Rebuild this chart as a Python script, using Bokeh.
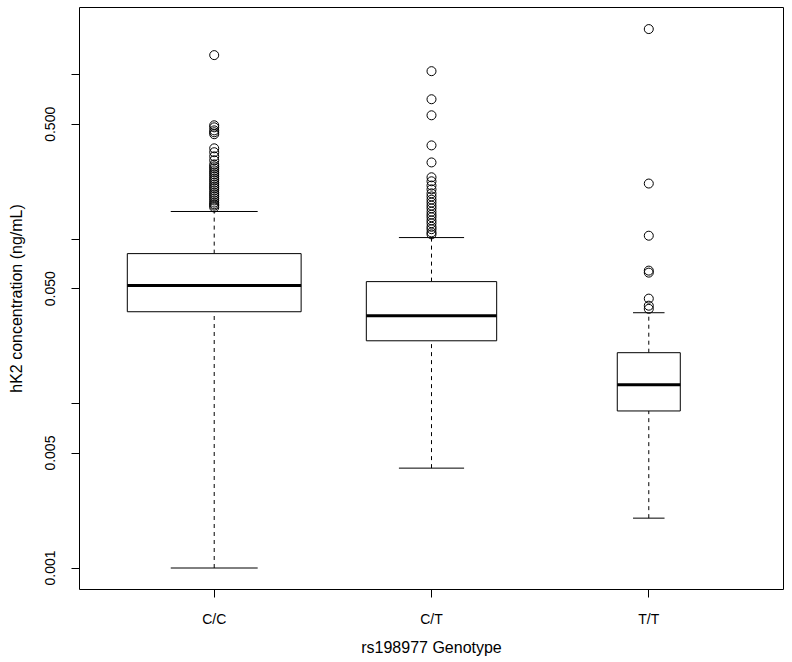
from bokeh.plotting import figure
from bokeh.models import Range1d, FixedTicker, ColumnDataSource
from bokeh.embed import file_html
from bokeh.resources import INLINE

# ---------------- data ----------------
genotypes = ["C/C", "C/T", "T/T"]
positions = [1, 2, 3]
box_widths = [0.80, 0.60, 0.29]
lower_whisker = [0.00100, 0.00405, 0.00201]
q1 = [0.0362, 0.0241, 0.00902]
median = [0.0522, 0.0342, 0.0130]
q3 = [0.0817, 0.0552, 0.0204]
upper_whisker = [0.1474, 0.1023, 0.0357]

outliers_cc = [1.317, 0.493, 0.479, 0.459, 0.447, 0.435, 0.357, 0.338, 0.319,
               0.302, 0.285, 0.277, 0.270, 0.262, 0.255, 0.248, 0.241, 0.234,
               0.228, 0.221, 0.215, 0.209, 0.204, 0.198, 0.192, 0.187, 0.182,
               0.177, 0.172, 0.167, 0.163, 0.160, 0.156]
outliers_ct = [1.052, 0.710, 0.567, 0.372, 0.293, 0.238, 0.225, 0.212, 0.201,
               0.190, 0.182, 0.174, 0.167, 0.160, 0.154, 0.147, 0.141, 0.136,
               0.130, 0.125, 0.119, 0.115, 0.110, 0.107]
outliers_tt = [1.897, 0.218, 0.105, 0.0644, 0.0626, 0.0435, 0.0394, 0.0377]

y_ticks = [0.001, 0.005, 0.01, 0.05, 0.1, 0.5, 1.0]
y_tick_labels = ["0.001", "0.005", "", "0.050", "", "0.500", ""]

FONT = "Liberation Sans"

p = figure(
    width=789, height=660,
    frame_width=704, frame_height=582,
    x_range=Range1d(0.38, 3.62),
    y_range=Range1d(0.00074, 2.566),
    y_axis_type="log",
    output_backend="svg",
    toolbar_location=None,
    min_border_left=79, min_border_top=7, min_border_right=6, min_border_bottom=71,
)
p.background_fill_color = "white"
p.border_fill_color = "white"
p.outline_line_color = "black"
p.outline_line_width = 1
p.xgrid.visible = False
p.ygrid.visible = False

# ---------------- boxes ----------------
left = [x - w / 2 for x, w in zip(positions, box_widths)]
right = [x + w / 2 for x, w in zip(positions, box_widths)]
cap_l = [x - w / 4 for x, w in zip(positions, box_widths)]
cap_r = [x + w / 4 for x, w in zip(positions, box_widths)]

src = ColumnDataSource(dict(x=positions, left=left, right=right, cap_l=cap_l, cap_r=cap_r,
                            lw=lower_whisker, q1=q1, med=median, q3=q3, uw=upper_whisker))

# whiskers (dashed)
p.segment(x0="x", y0="q3", x1="x", y1="uw", source=src, line_color="black",
          line_width=1, line_dash="4 4")
p.segment(x0="x", y0="lw", x1="x", y1="q1", source=src, line_color="black",
          line_width=1, line_dash="4 4")
# staples
p.segment(x0="cap_l", y0="uw", x1="cap_r", y1="uw", source=src, line_color="black", line_width=1)
p.segment(x0="cap_l", y0="lw", x1="cap_r", y1="lw", source=src, line_color="black", line_width=1)
# box
p.quad(left="left", right="right", bottom="q1", top="q3", source=src,
       fill_color="white", line_color="black", line_width=1)
# median
p.segment(x0="left", y0="med", x1="right", y1="med", source=src, line_color="black", line_width=3)

# outliers
for pos, outs in zip(positions, [outliers_cc, outliers_ct, outliers_tt]):
    p.scatter([pos] * len(outs), outs, marker="circle", size=9,
              fill_color=None, line_color="black", line_width=1)

# ---------------- axes ----------------
p.xaxis.ticker = FixedTicker(ticks=positions)
p.xaxis.major_label_overrides = {pos: g for pos, g in zip(positions, genotypes)}
p.xaxis.axis_label = "rs198977 Genotype"
p.yaxis.ticker = FixedTicker(ticks=y_ticks)
p.yaxis.major_label_overrides = {t: l for t, l in zip(y_ticks, y_tick_labels)}
p.yaxis.axis_label = "hK2 concentration (ng/mL)"
p.yaxis.major_label_orientation = "vertical"

for ax in (p.xaxis, p.yaxis):
    ax.axis_line_color = None
    ax.minor_tick_line_color = None
    ax.major_tick_in = 0
    ax.major_tick_out = 8
    ax.major_tick_line_color = "black"
    ax.major_label_text_font = FONT
    ax.major_label_text_font_size = "14px"
    ax.major_label_text_color = "black"
    ax.axis_label_text_font = FONT
    ax.axis_label_text_font_size = "16px"
    ax.axis_label_text_font_style = "normal"
    ax.axis_label_text_color = "black"

p.xaxis.major_label_standoff = 13
p.xaxis.axis_label_standoff = 9
p.yaxis.major_label_standoff = 16
p.yaxis.axis_label_standoff = 18

open("out.html", "w").write(file_html(p, INLINE))
